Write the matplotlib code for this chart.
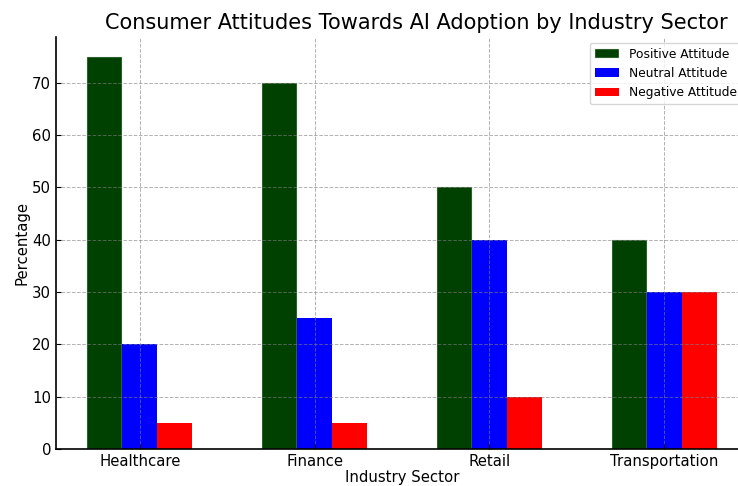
import matplotlib
matplotlib.use('Agg')
import matplotlib.pyplot as plt
import numpy as np

sectors = ['Healthcare', 'Finance', 'Retail', 'Transportation']
positive = [75, 70, 50, 40]
neutral = [20, 25, 40, 30]
negative = [5, 5, 10, 30]

x = np.arange(len(sectors))
w = 0.2

fig = plt.figure(figsize=(7.38, 4.86), dpi=100)
ax = fig.add_axes([0.0759, 0.0761, 0.9377, 0.8479])

ax.bar(x - w, positive, w, color='#004000', edgecolor='#d0e0d0', linewidth=0.3, label='Positive Attitude')
ax.bar(x, neutral, w, color='blue', label='Neutral Attitude')
ax.bar(x + w, negative, w, color='red', label='Negative Attitude')

ax.set_title('Consumer Attitudes Towards AI Adoption by Industry Sector', fontsize=15, x=0.52)
ax.set_xlabel('Industry Sector', fontsize=10.7, labelpad=1)
ax.set_ylabel('Percentage', fontsize=10.7, labelpad=2)
ax.set_xticks(x)
ax.set_xticklabels(sectors, fontsize=10.7)
ax.tick_params(axis='y', labelsize=10.7)
ax.tick_params(direction='in')
ax.set_ylim(0, 78.75)
ax.set_xlim(-0.48, 3.48)
ax.set_axisbelow(False)
ax.grid(True, linestyle='--', color='gray', alpha=0.6, linewidth=0.7)
ax.spines['top'].set_visible(False)
ax.spines['right'].set_visible(False)
ax.spines['left'].set_linewidth(1.2)
ax.spines['bottom'].set_linewidth(1.2)
ax.legend(loc='upper right', fontsize=8.8)

fig.savefig('out.png', dpi=100)
